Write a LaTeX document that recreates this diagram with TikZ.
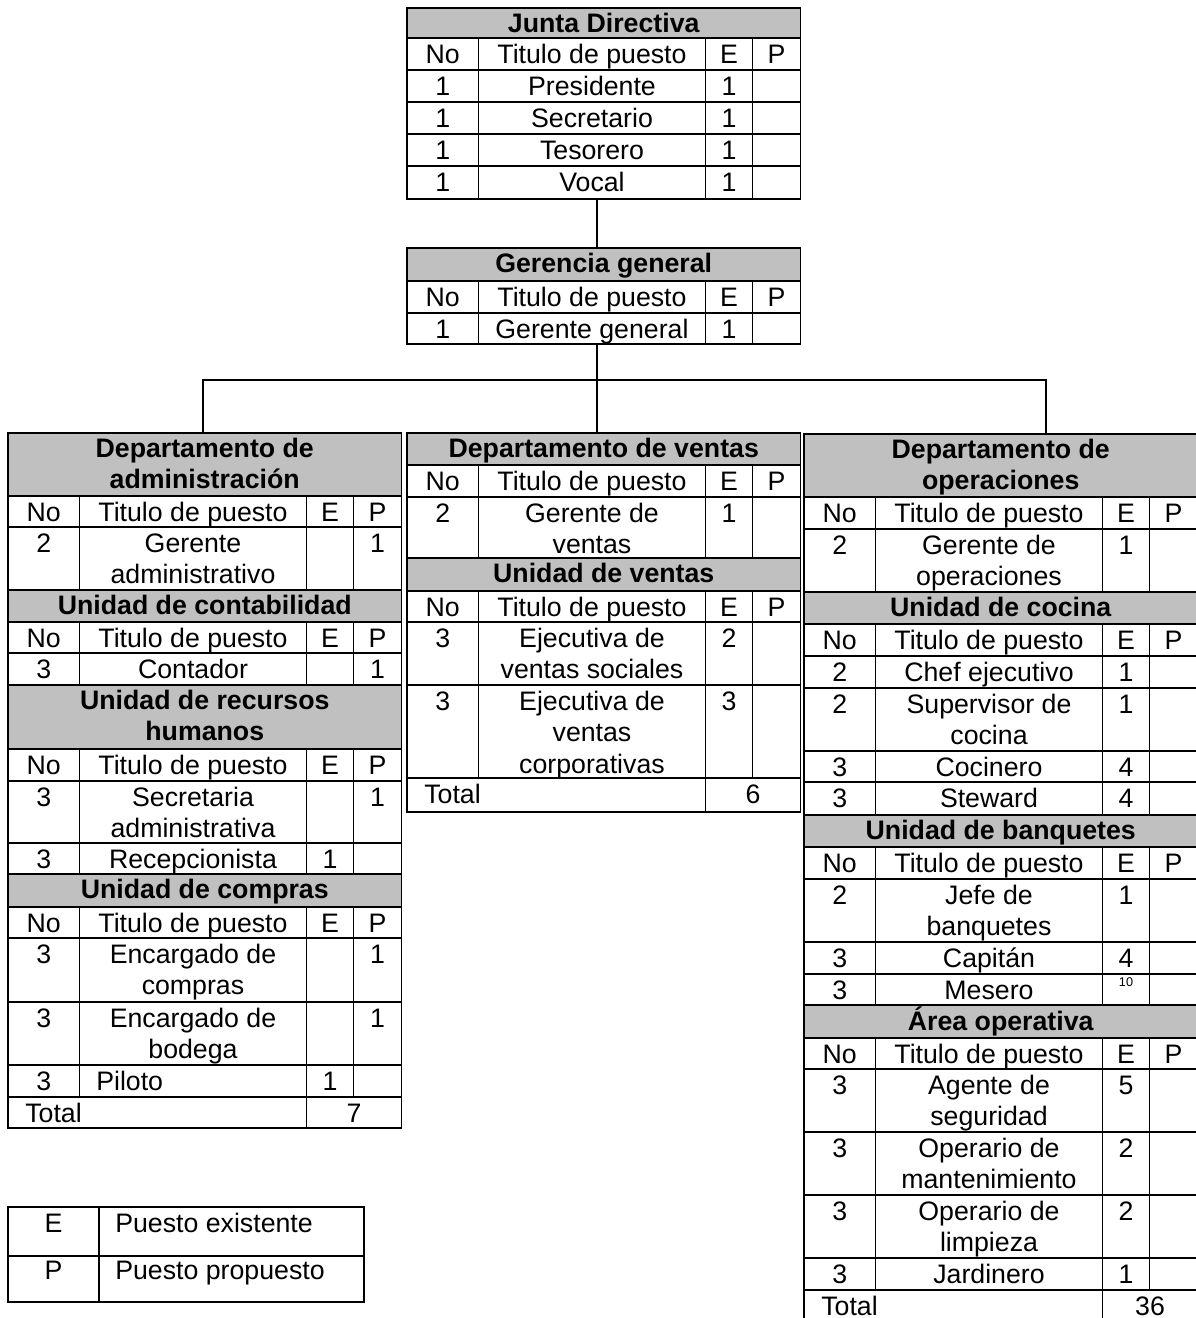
\documentclass[tikz,border=0pt]{standalone}
\usepackage{fontspec}
\setmainfont{Liberation Sans}
\usepackage{xcolor}
\definecolor{hdrGray}{RGB}{192,192,192}
\tikzset{
  cell/.style    = {draw, line width=1.3pt},
  hdrcell/.style = {cell, fill=hdrGray},
  txt/.style     = {anchor=north, inner sep=0pt, align=center,
                    font=\fontsize{19}{22.4}\selectfont},
  hdrtxt/.style  = {txt, font=\fontsize{19}{22.4}\selectfont\bfseries},
  link/.style    = {line width=1pt}
}
% grey title band: name, x, top, bottom, text
\newcommand{\tblhead}[5]{%
  \draw[hdrcell] (#2,#3) rectangle (#2+393.5,#4);
  \node[hdrtxt] (#1) at (#2+196.75,#3+2) {\strut #5};
}
% No / Titulo de puesto / E / P
\newcommand{\colhead}[4]{%
  \draw[cell] (#2,#3) rectangle (#2+393.5,#4);
  \draw[cell] (#2+71.5,#3) -- (#2+71.5,#4) (#2+298.5,#3) -- (#2+298.5,#4)
              (#2+345.5,#3) -- (#2+345.5,#4);
  \node[txt] (#1-no) at (#2+35.75,#3+3) {\strut No};
  \node[txt] (#1-t)  at (#2+185,#3+3)   {\strut Titulo de puesto};
  \node[txt] (#1-e)  at (#2+322,#3+3)   {\strut E};
  \node[txt] (#1-p)  at (#2+369.5,#3+3) {\strut P};
}
% [title options] name, x, top, bottom, No, title, E, P
\newcommand{\jobrow}[9][]{%
  \draw[cell] (#3,#4) rectangle (#3+393.5,#5);
  \draw[cell] (#3+71.5,#4) -- (#3+71.5,#5) (#3+298.5,#4) -- (#3+298.5,#5)
              (#3+345.5,#4) -- (#3+345.5,#5);
  \node[txt] (#2-no) at (#3+35.75,#4+3) {\strut #6};
  \node[txt,#1] (#2-t) at (#3+185,#4+3) {\strut #7};
  \node[txt] (#2-e)  at (#3+322,#4+3)   {\strut #8};
  \node[txt] (#2-p)  at (#3+369.5,#4+3) {\strut #9};
}
% Total: name, x, top, bottom, value
\newcommand{\totrow}[5]{%
  \draw[cell] (#2,#3) rectangle (#2+393.5,#4);
  \draw[cell] (#2+298.5,#3) -- (#2+298.5,#4);
  \node[txt, anchor=north west] (#1-l) at (#2+17,#3+3) {\strut Total};
  \node[txt] (#1-v) at (#2+346,#3+3) {\strut #5};
}

\begin{document}
\begin{tikzpicture}[x=0.025cm, y=-0.025cm]
  \useasboundingbox (0,0) rectangle (1196,1318);

  % Junta directiva
  \tblhead{junta}{407}{8}{38}{Junta Directiva}
  \colhead{jdh}{407}{38}{70}
  \jobrow{jd1}{407}{70}{102}{1}{Presidente}{1}{}
  \jobrow{jd2}{407}{102}{134}{1}{Secretario}{1}{}
  \jobrow{jd3}{407}{134}{166}{1}{Tesorero}{1}{}
  \jobrow{jd4}{407}{166}{199}{1}{Vocal}{1}{}

  % Gerencia general
  \tblhead{gerencia}{407}{248}{281}{Gerencia general}
  \colhead{ggh}{407}{281}{313}
  \jobrow{gg1}{407}{313}{344}{1}{Gerente general}{1}{}

  % Departamento de administracion
  \tblhead{depadm}{8}{433}{496}{Departamento de\\administración}
  \colhead{admh}{8}{496}{527}
  \jobrow{adm1}{8}{527}{590}{2}{Gerente\\administrativo}{}{1}
  \tblhead{contab}{8}{590}{622}{Unidad de contabilidad}
  \colhead{conh}{8}{622}{653}
  \jobrow{con1}{8}{653}{685}{3}{Contador}{}{1}
  \tblhead{rrhh}{8}{685}{749}{Unidad de recursos\\humanos}
  \colhead{rhh}{8}{749}{781}
  \jobrow{rh1}{8}{781}{843}{3}{Secretaria\\administrativa}{}{1}
  \jobrow{rh2}{8}{843}{874}{3}{Recepcionista}{1}{}
  \tblhead{compras}{8}{874}{907}{Unidad de compras}
  \colhead{cmph}{8}{907}{938}
  \jobrow{cmp1}{8}{938}{1002}{3}{Encargado de\\compras}{}{1}
  \jobrow{cmp2}{8}{1002}{1065}{3}{Encargado de\\bodega}{}{1}
  \jobrow[anchor=north west, xshift=-69pt]{cmp3}{8}{1065}{1097}{3}{Piloto}{1}{}
  \totrow{admtot}{8}{1097}{1128}{7}

  % Departamento de ventas
  \tblhead{depven}{407}{433}{465}{Departamento de ventas}
  \colhead{venh}{407}{465}{497}
  \jobrow{ven1}{407}{497}{558}{2}{Gerente de\\ventas}{1}{}
  \tblhead{uventas}{407}{558}{591}{Unidad de ventas}
  \colhead{uvh}{407}{591}{622}
  \jobrow{uv1}{407}{622}{685}{3}{Ejecutiva de\\ventas sociales}{2}{}
  \jobrow{uv2}{407}{685}{778}{3}{Ejecutiva de\\ventas\\corporativas}{3}{}
  \totrow{ventot}{407}{778}{812}{6}

  % Departamento de operaciones
  \tblhead{depope}{804}{434}{497}{Departamento de\\operaciones}
  \colhead{opeh}{804}{497}{529}
  \jobrow{ope1}{804}{529}{592}{2}{Gerente de\\operaciones}{1}{}
  \tblhead{cocina}{804}{592}{624}{Unidad de cocina}
  \colhead{coch}{804}{624}{656}
  \jobrow{coc1}{804}{656}{688}{2}{Chef ejecutivo}{1}{}
  \jobrow{coc2}{804}{688}{751}{2}{Supervisor de\\cocina}{1}{}
  \jobrow{coc3}{804}{751}{782}{3}{Cocinero}{4}{}
  \jobrow{coc4}{804}{782}{815}{3}{Steward}{4}{}
  \tblhead{banq}{804}{815}{847}{Unidad de banquetes}
  \colhead{banh}{804}{847}{879}
  \jobrow{ban1}{804}{879}{942}{2}{Jefe de\\banquetes}{1}{}
  \jobrow{ban2}{804}{942}{974}{3}{Capitán}{4}{}
  \jobrow{ban3}{804}{974}{1005}{3}{Mesero}{\raisebox{9pt}{\fontsize{9}{10}\selectfont 10}}{}
  \tblhead{areaop}{804}{1005}{1038}{Área operativa}
  \colhead{aoph}{804}{1038}{1069}
  \jobrow{aop1}{804}{1069}{1132}{3}{Agente de\\seguridad}{5}{}
  \jobrow{aop2}{804}{1132}{1195}{3}{Operario de\\mantenimiento}{2}{}
  \jobrow{aop3}{804}{1195}{1258}{3}{Operario de\\limpieza}{2}{}
  \jobrow{aop4}{804}{1258}{1290}{3}{Jardinero}{1}{}
  \totrow{opetot}{804}{1290}{1322}{36}

  % Connectors
  \coordinate (jdbot) at (597,199);
  \coordinate (ggtop) at (597,248);
  \coordinate (ggbot) at (597,344);
  \coordinate (bus) at (597,380);
  \coordinate (admtop) at (203,433);
  \coordinate (ventop) at (597,433);
  \coordinate (opetop) at (1046,434);
  \draw[link] (jdbot) -- (ggtop);
  \draw[link] (ggbot) -- (bus) -- (ventop);
  \draw[link] (admtop) |- (bus) -| (opetop);

  % Legend
  \draw[cell] (8,1207) rectangle (364,1302);
  \draw[cell] (8,1256) -- (364,1256) (99,1207) -- (99,1302);
  \node[txt] (legE) at (53.5,1210) {\strut E};
  \node[txt, anchor=north west] (legEt) at (115,1210) {\strut Puesto existente};
  \node[txt] (legP) at (53.5,1257) {\strut P};
  \node[txt, anchor=north west] (legPt) at (115,1257) {\strut Puesto propuesto};
\end{tikzpicture}
\end{document}
